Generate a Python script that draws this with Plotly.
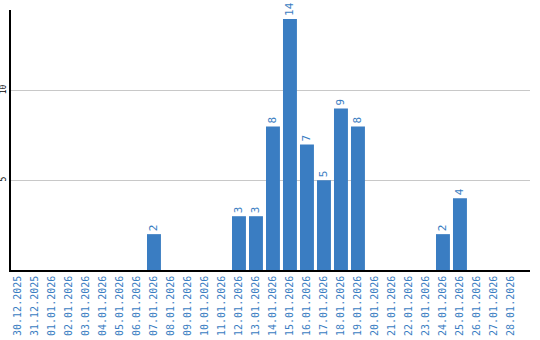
import plotly.graph_objects as go

dates = ["30.12.2025", "31.12.2025", "01.01.2026", "02.01.2026", "03.01.2026", "04.01.2026",
         "05.01.2026", "06.01.2026", "07.01.2026", "08.01.2026", "09.01.2026", "10.01.2026",
         "11.01.2026", "12.01.2026", "13.01.2026", "14.01.2026", "15.01.2026", "16.01.2026",
         "17.01.2026", "18.01.2026", "19.01.2026", "20.01.2026", "21.01.2026", "22.01.2026",
         "23.01.2026", "24.01.2026", "25.01.2026", "26.01.2026", "27.01.2026", "28.01.2026"]
values = [0, 0, 0, 0, 0, 0, 0, 0, 2, 0, 0, 0, 0, 3, 3, 8, 14, 7, 5, 9, 8, 0, 0, 0, 0, 2, 4, 0, 0, 0]
ytick_vals = [5, 10]

blue = "#3a7dc2"
labels = [str(v) if v > 0 else "" for v in values]

fig = go.Figure(go.Bar(
    x=list(range(len(dates))), y=values, marker_color=blue, marker_line_width=0,
    text=labels, textposition="outside", textangle=-90, constraintext="none",
    textfont=dict(color=blue, size=11, family="DejaVu Sans Mono"), cliponaxis=False,
))
fig.update_layout(
    width=540, height=340, margin=dict(l=11, r=10, t=10, b=70),
    plot_bgcolor="white", paper_bgcolor="white", bargap=0.18, showlegend=False,
)
fig.update_xaxes(
    tickmode="array", tickvals=list(range(len(dates))), ticktext=dates, tickangle=-90,
    tickfont=dict(color=blue, size=10, family="DejaVu Sans Mono"),
    range=[-0.41, 30.12], showline=True, linecolor="black", linewidth=1.5,
    showgrid=False, ticks="", automargin=False,
)
fig.update_yaxes(
    range=[0, 14.5], tickvals=ytick_vals, tickangle=-90,
    tickfont=dict(color="black", size=8, family="DejaVu Sans Mono"),
    showline=True, linecolor="black", linewidth=1.5, gridcolor="#c8c8c8",
    zeroline=False, ticks="", automargin=False,
)
fig.write_html("out.html")
